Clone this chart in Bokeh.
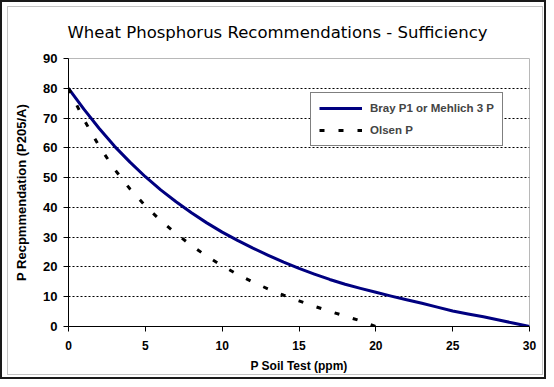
from bokeh.plotting import figure
from bokeh.models import Range1d, FixedTicker, Legend, LegendItem
from bokeh.embed import file_html
from bokeh.resources import INLINE

# ---- data ----
title_text = "Wheat Phosphorus Recommendations - Sufficiency"
x_label = "P Soil Test (ppm)"
y_label = "P Recpmmendation (P205/A)"
x_ticks = [0, 5, 10, 15, 20, 25, 30]
y_ticks = [0, 10, 20, 30, 40, 50, 60, 70, 80, 90]
series_names = ["Bray P1 or Mehlich 3 P", "Olsen P"]

bray_x = list(range(0, 31))
bray_y = [80, 73, 66.5, 60.5, 55.2, 50.3, 45.9, 41.9, 38.2, 34.8,
          31.7, 28.9, 26.3, 23.9, 21.6, 19.5, 17.6, 15.8, 14.2, 12.8,
          11.5, 10.2, 9.0, 7.8, 6.5, 5.2, 4.2, 3.3, 2.2, 1.1, 0]

olsen_x = list(range(0, 21))
olsen_y = [80, 69.5, 60.5, 52.8, 46.2, 40.5, 35.6, 31.2, 27.2, 23.6,
           20.4, 17.5, 14.9, 12.6, 10.5, 8.6, 6.8, 5.1, 3.5, 1.9, 0]

W, H = 546, 379
p = figure(width=W, height=H, output_backend="svg", toolbar_location=None,
           x_range=Range1d(0, 30), y_range=Range1d(0, 90),
           min_border_left=68, min_border_right=17, min_border_top=58,
           min_border_bottom=53, background_fill_color="white",
           border_fill_color=None, outline_line_color="#b8b8b8")

# chart-area frame (dark outer edge + light gray inner line)
p.styles = {
    "background-color": "white",
    "box-shadow": ("inset 0 0 0 2px #1a1a1a, "
                   "inset 2px 1px 0 5px white, "
                   "inset 2px 1px 0 6px #c4c4c4"),
}

# title
p.title.text = title_text
p.title.align = "left"
p.title.offset = -1
p.title.text_font = "DejaVu Sans"
p.title.text_font_size = "16.5px"
p.title.text_font_style = "normal"
p.title.text_color = "black"
p.title.standoff = 34

# axes
for ax in (p.xaxis[0], p.yaxis[0]):
    ax.axis_line_color = "black"
    ax.axis_line_width = 1
    ax.major_tick_line_color = "black"
    ax.major_tick_out = 5
    ax.major_tick_in = 0
    ax.minor_tick_line_color = None
    ax.major_label_text_font = "Liberation Sans"
    ax.major_label_text_font_style = "bold"
    ax.major_label_text_color = "black"
    ax.axis_label_text_font = "Liberation Sans"
    ax.axis_label_text_font_style = "bold"
    ax.axis_label_text_color = "black"

p.xaxis.ticker = FixedTicker(ticks=x_ticks)
p.yaxis.ticker = FixedTicker(ticks=y_ticks)
p.xaxis.axis_label = x_label
p.yaxis.axis_label = y_label
p.xaxis.major_label_text_font_size = "12px"
p.yaxis.major_label_text_font_size = "13px"
p.xaxis.axis_label_text_font_size = "12px"
p.yaxis.axis_label_text_font_size = "13px"
p.xaxis.major_label_standoff = 9
p.yaxis.major_label_standoff = 6
p.xaxis.axis_label_standoff = 6
p.yaxis.axis_label_standoff = 11

# grid
p.xgrid.grid_line_color = None
p.ygrid.grid_line_color = "black"
p.ygrid.grid_line_dash = "2 2"
p.ygrid.grid_line_width = 1

# lines
r1 = p.line(bray_x, bray_y, line_color="#000080", line_width=3,
            line_join="round")
r2 = p.line(olsen_x, olsen_y, line_color="black", line_width=3,
            line_dash="5 14", line_join="round")

legend = Legend(items=[LegendItem(label=series_names[0], renderers=[r1]),
                       LegendItem(label=series_names[1], renderers=[r2])],
                location=(242, 180), margin=0, padding=8, spacing=8,
                glyph_width=43, glyph_height=14, label_height=14,
                label_standoff=8, label_text_font="Liberation Sans",
                label_text_font_style="bold", label_text_font_size="11.5px",
                border_line_color="black", border_line_width=1,
                background_fill_color="white", background_fill_alpha=1)
p.add_layout(legend, "center")

open("out.html", "w").write(file_html(p, INLINE))
